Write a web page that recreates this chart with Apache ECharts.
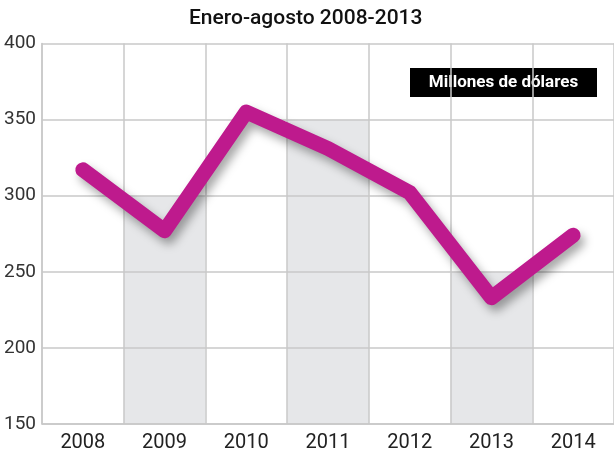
<!DOCTYPE html>
<html>
<head>
<meta charset="utf-8">
<script src="https://cdn.jsdelivr.net/npm/echarts@6/dist/echarts.min.js"></script>
<style>
  html, body { margin: 0; padding: 0; background: #fff; }
  #chart { width: 614px; height: 455px; }
</style>
</head>
<body>
<div id="chart"></div>
<script>
// datos
var years = ['2008', '2009', '2010', '2011', '2012', '2013', '2014'];
var valores = [317, 277, 355, 331, 302, 233, 274];
// columnas grises de fondo (hasta la linea de rejilla)
var bandas = [null, 300, null, 350, null, 250, null];
var yTicks = [150, 200, 250, 300, 350, 400];

var gridColor = '#c8c8c8';
var fuente = 'Roboto, "DejaVu Sans", sans-serif';

var myChart = echarts.init(document.getElementById('chart'));

myChart.setOption({
  animation: false,
  title: {
    text: 'Enero-agosto 2008-2013',
    left: 189,
    top: 8,
    padding: 0,
    textStyle: {
      color: '#111',
      fontFamily: fuente,
      fontWeight: 500,
      fontSize: 21
    }
  },
  grid: {
    left: 42,
    right: -9,
    top: 43.5,
    bottom: 31,
    containLabel: false
  },
  xAxis: {
    type: 'category',
    data: years,
    boundaryGap: true,
    axisLine: { show: true, lineStyle: { color: gridColor, width: 1.5 } },
    axisTick: { show: false },
    axisLabel: {
      color: '#222',
      fontFamily: fuente,
      fontSize: 20,
      margin: 9
    },
    splitLine: { show: true, lineStyle: { color: gridColor, width: 1.5 } }
  },
  yAxis: {
    type: 'value',
    min: yTicks[0],
    max: yTicks[yTicks.length - 1],
    interval: 50,
    axisLine: { show: true, lineStyle: { color: gridColor, width: 1.5 } },
    axisTick: { show: false },
    axisLabel: {
      color: '#333',
      fontFamily: fuente,
      fontSize: 19,
      margin: 6
    },
    splitLine: { show: true, lineStyle: { color: gridColor, width: 1.5 } }
  },
  graphic: [{
    type: 'group',
    left: 410,
    top: 68,
    children: [{
      type: 'rect',
      shape: { x: 0, y: 0, width: 187, height: 29 },
      style: { fill: '#000' }
    }, {
      type: 'text',
      x: 93.5,
      y: 15,
      style: {
        text: 'Millones de dólares',
        fill: '#fff',
        font: 'bold 17px ' + fuente,
        textAlign: 'center',
        textVerticalAlign: 'middle'
      }
    }]
  }],
  series: [
    {
      name: 'bandas',
      type: 'bar',
      z: -1,
      barWidth: '100%',
      silent: true,
      itemStyle: { color: '#e6e7e9' },
      data: bandas
    },
    {
      name: 'Millones de dólares',
      type: 'line',
      symbol: 'none',
      smooth: false,
      lineStyle: {
        color: '#be1a8d',
        width: 15,
        cap: 'round',
        join: 'round',
        shadowColor: 'rgba(0,0,0,0.35)',
        shadowBlur: 10,
        shadowOffsetX: 4,
        shadowOffsetY: 6
      },
      data: valores
    }
  ]
});
</script>
</body>
</html>
